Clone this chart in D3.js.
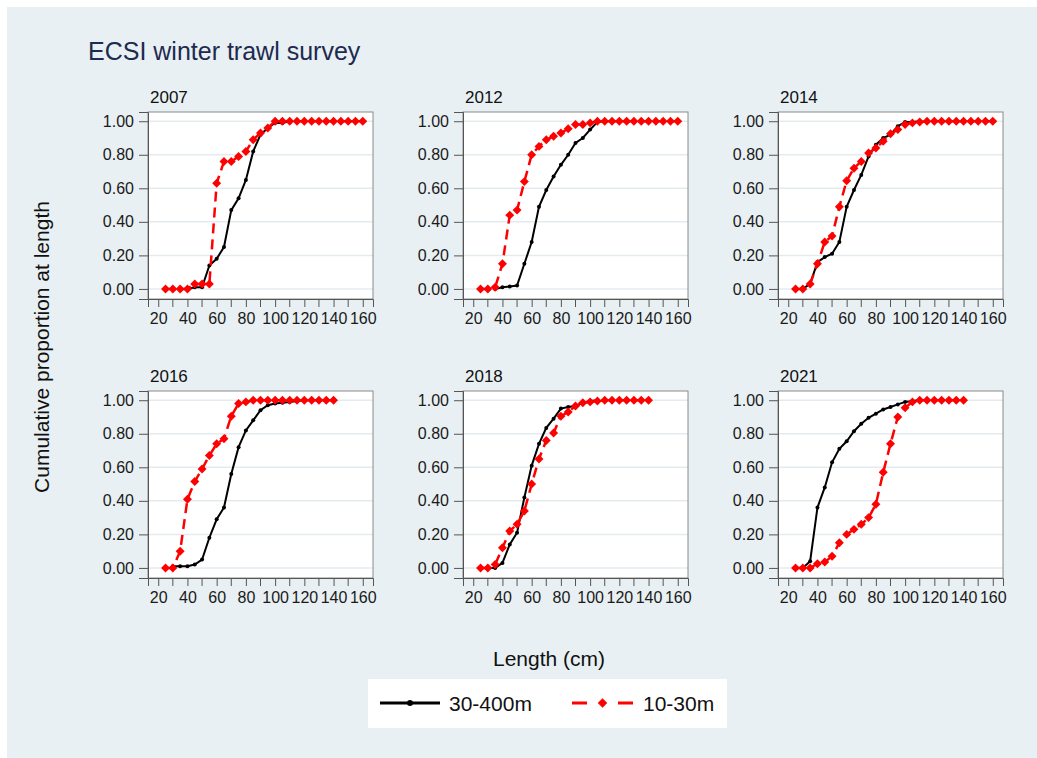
<!DOCTYPE html>
<html>
<head>
<meta charset="utf-8">
<script src="https://cdn.jsdelivr.net/npm/d3@7"></script>
<style>
  body { margin: 0; background: #fff; }
  svg { display: block; font-family: "Liberation Sans", Arial, sans-serif; }
</style>
</head>
<body>
<svg id="chart" width="1037" height="758"></svg>
<script>
// panel years, in reading order
var years = ["2007", "2012", "2014", "2016", "2018", "2021"];

// x = length class (cm), y = cumulative proportion
var deepLen = {
  "2007": [40, 45, 50, 55, 60, 65, 70, 75, 80, 85, 90, 95, 100, 105, 110],
  "2012": [35, 40, 45, 50, 55, 60, 65, 70, 75, 80, 85, 90, 95, 100, 105, 110],
  "2014": [30, 35, 40, 45, 50, 55, 60, 65, 70, 75, 80, 85, 90, 95, 100, 105, 110],
  "2016": [30, 35, 40, 45, 50, 55, 60, 65, 70, 75, 80, 85, 90, 95, 100, 105, 110, 115, 120],
  "2018": [30, 35, 40, 45, 50, 55, 60, 65, 70, 75, 80, 85, 90, 95, 100, 105],
  "2021": [30, 35, 40, 45, 50, 55, 60, 65, 70, 75, 80, 85, 90, 95, 100, 105, 110]
};
var deepVal = {
  "2007": [0.00, 0.01, 0.01, 0.14, 0.18, 0.25, 0.47, 0.54, 0.65, 0.82, 0.92, 0.96, 0.99, 0.99, 1.00],
  "2012": [0.00, 0.01, 0.015, 0.02, 0.15, 0.28, 0.49, 0.59, 0.67, 0.74, 0.80, 0.87, 0.90, 0.95, 0.995, 1.00],
  "2014": [0.00, 0.03, 0.16, 0.19, 0.21, 0.28, 0.49, 0.59, 0.68, 0.79, 0.86, 0.90, 0.92, 0.97, 0.995, 0.995, 1.00],
  "2016": [0.01, 0.01, 0.01, 0.02, 0.05, 0.18, 0.29, 0.36, 0.56, 0.72, 0.82, 0.88, 0.94, 0.97, 0.98, 0.985, 0.99, 0.995, 1.00],
  "2018": [0.00, 0.00, 0.03, 0.14, 0.21, 0.42, 0.61, 0.74, 0.835, 0.89, 0.95, 0.96, 0.965, 0.985, 0.995, 1.00],
  "2021": [0.00, 0.04, 0.36, 0.48, 0.63, 0.71, 0.755, 0.815, 0.86, 0.895, 0.92, 0.945, 0.96, 0.975, 0.99, 0.995, 1.00]
};

var shallowLen160 = [25, 30, 35, 40, 45, 50, 55, 60, 65, 70, 75, 80, 85, 90, 95, 100, 105, 110,
  115, 120, 125, 130, 135, 140, 145, 150, 155, 160];
var shallowLen140 = [25, 30, 35, 40, 45, 50, 55, 60, 65, 70, 75, 80, 85, 90, 95, 100, 105, 110,
  115, 120, 125, 130, 135, 140];
var shallowVal = {
  "2007": [0.00, 0.00, 0.00, 0.00, 0.03, 0.03, 0.03, 0.63, 0.76, 0.76, 0.79, 0.82, 0.89, 0.93, 0.96, 1.00, 1.00, 1.00,
    1.00, 1.00, 1.00, 1.00, 1.00, 1.00, 1.00, 1.00, 1.00, 1.00],
  "2012": [0.00, 0.00, 0.01, 0.15, 0.44, 0.47, 0.64, 0.80, 0.85, 0.89, 0.91, 0.93, 0.955, 0.98, 0.98, 0.99, 1.00, 1.00,
    1.00, 1.00, 1.00, 1.00, 1.00, 1.00, 1.00, 1.00, 1.00, 1.00],
  "2014": [0.00, 0.00, 0.03, 0.15, 0.28, 0.315, 0.49, 0.645, 0.72, 0.76, 0.81, 0.84, 0.88, 0.925, 0.95, 0.98, 0.99, 0.995,
    1.00, 1.00, 1.00, 1.00, 1.00, 1.00, 1.00, 1.00, 1.00, 1.00],
  "2016": [0.00, 0.00, 0.10, 0.41, 0.515, 0.59, 0.67, 0.74, 0.77, 0.905, 0.98, 0.99, 1.00, 1.00, 1.00, 1.00, 1.00, 1.00,
    1.00, 1.00, 1.00, 1.00, 1.00, 1.00],
  "2018": [0.00, 0.00, 0.02, 0.12, 0.22, 0.26, 0.34, 0.50, 0.65, 0.76, 0.805, 0.905, 0.93, 0.965, 0.985, 0.99, 0.995, 1.00,
    1.00, 1.00, 1.00, 1.00, 1.00, 1.00],
  "2021": [0.00, 0.00, 0.00, 0.025, 0.035, 0.07, 0.15, 0.20, 0.23, 0.26, 0.30, 0.38, 0.57, 0.74, 0.90, 0.955, 0.99, 1.00,
    1.00, 1.00, 1.00, 1.00, 1.00, 1.00]
};
var shallowLen = {"2007": shallowLen160, "2012": shallowLen160, "2014": shallowLen160,
  "2016": shallowLen140, "2018": shallowLen140, "2021": shallowLen140};

var xTicks = [20, 40, 60, 80, 100, 120, 140, 160];
var xMinorTicks = [30, 50, 70, 90, 110, 130, 150];
var yTicks = [0, 0.2, 0.4, 0.6, 0.8, 1.0];
var seriesNames = ["30-400m", "10-30m"];

var svg = d3.select("#chart");

// background
svg.append("rect")
  .attr("x", 7).attr("y", 7)
  .attr("width", 1030).attr("height", 751)
  .attr("fill", "#e8f0f3");

svg.append("text")
  .attr("x", 88).attr("y", 60)
  .attr("font-size", 25)
  .attr("fill", "#1e2a4f")
  .text("ECSI winter trawl survey");

var pw = 225, ph = 187;
var colX = [148, 463, 778], rowY = [112, 391];

var x = d3.scaleLinear().domain([13, 167]).range([0, pw]);
var y = d3.scaleLinear().domain([-0.06, 1.055]).range([ph, 0]);

function toPts(lens, vals) {
  return lens.map(function(d, i) { return [d, vals[i]]; });
}

var line = d3.line()
  .x(function(d) { return x(d[0]); })
  .y(function(d) { return y(d[1]); });

var diamond = d3.symbol().type(d3.symbolSquare).size(40);

years.forEach(function(yr, i) {
  var g = svg.append("g")
    .attr("transform", "translate(" + colX[i % 3] + "," + rowY[Math.floor(i / 3)] + ")");

  g.append("rect")
    .attr("width", pw).attr("height", ph)
    .attr("fill", "#fff");

  // grid lines
  g.selectAll(".grid")
    .data(yTicks)
    .enter().append("line")
      .attr("x1", 0).attr("x2", pw)
      .attr("y1", function(d) { return y(d); })
      .attr("y2", function(d) { return y(d); })
      .attr("stroke", "#e3ebef")
      .attr("stroke-width", 1.5);

  g.append("rect")
    .attr("width", pw).attr("height", ph)
    .attr("fill", "none")
    .attr("stroke", "#8a8a8a")
    .attr("stroke-width", 1);

  // y axis
  var yAx = g.append("g")
    .call(d3.axisLeft(y).tickValues(yTicks).tickSize(9).tickPadding(5)
      .tickFormat(d3.format(".2f")));
  yAx.select(".domain").attr("stroke", "#555");
  yAx.selectAll(".tick line").attr("stroke", "#555");
  yAx.selectAll("text").attr("font-size", 16).attr("fill", "#1a1a1a")
    .attr("font-family", "Liberation Sans, Arial, sans-serif");

  // x axis
  var xAx = g.append("g")
    .attr("transform", "translate(0," + ph + ")")
    .call(d3.axisBottom(x).tickValues(xTicks).tickSize(8).tickPadding(6));
  xAx.select(".domain").attr("stroke", "#555");
  xAx.selectAll(".tick line").attr("stroke", "#555");
  xAx.selectAll("text").attr("font-size", 16).attr("fill", "#1a1a1a")
    .attr("font-family", "Liberation Sans, Arial, sans-serif");
  g.selectAll(".minor")
    .data(xMinorTicks)
    .enter().append("line")
      .attr("x1", function(d) { return x(d); })
      .attr("x2", function(d) { return x(d); })
      .attr("y1", ph).attr("y2", ph + 8)
      .attr("stroke", "#555");

  g.append("text")
    .attr("x", 2).attr("y", -9)
    .attr("font-size", 17)
    .attr("fill", "#111")
    .text(yr);

  // 30-400m
  var deep = toPts(deepLen[yr], deepVal[yr]);
  g.append("path")
    .attr("d", line(deep))
    .attr("fill", "none")
    .attr("stroke", "#000")
    .attr("stroke-width", 2);
  g.selectAll(".deep")
    .data(deep)
    .enter().append("circle")
      .attr("cx", function(d) { return x(d[0]); })
      .attr("cy", function(d) { return y(d[1]); })
      .attr("r", 2)
      .attr("fill", "#000");

  // 10-30m
  var shallow = toPts(shallowLen[yr], shallowVal[yr]);
  g.append("path")
    .attr("d", line(shallow))
    .attr("fill", "none")
    .attr("stroke", "#ff0000")
    .attr("stroke-width", 2.5)
    .attr("stroke-dasharray", "10,6");
  g.selectAll(".shallow")
    .data(shallow)
    .enter().append("path")
      .attr("d", diamond)
      .attr("transform", function(d) {
        return "translate(" + x(d[0]) + "," + y(d[1]) + ") rotate(45)";
      })
      .attr("fill", "#ff0000");
});

// axis titles
svg.append("text")
  .attr("transform", "translate(49,347) rotate(-90)")
  .attr("text-anchor", "middle")
  .attr("font-size", 21)
  .attr("fill", "#111")
  .text("Cumulative proportion at length");

svg.append("text")
  .attr("x", 549).attr("y", 666)
  .attr("text-anchor", "middle")
  .attr("font-size", 21)
  .attr("fill", "#111")
  .text("Length (cm)");

// legend
var leg = svg.append("g");
leg.append("rect")
  .attr("x", 368).attr("y", 679)
  .attr("width", 359).attr("height", 49)
  .attr("fill", "#fff");

leg.append("line")
  .attr("x1", 380).attr("x2", 440)
  .attr("y1", 703).attr("y2", 703)
  .attr("stroke", "#000").attr("stroke-width", 3);
leg.append("circle")
  .attr("cx", 410).attr("cy", 703).attr("r", 3)
  .attr("fill", "#000");
leg.append("text")
  .attr("x", 449).attr("y", 711)
  .attr("font-size", 21).attr("fill", "#111")
  .text(seriesNames[0]);

leg.append("line")
  .attr("x1", 572).attr("x2", 633)
  .attr("y1", 703).attr("y2", 703)
  .attr("stroke", "#ff0000").attr("stroke-width", 3)
  .attr("stroke-dasharray", "15,31");
leg.append("path")
  .attr("d", d3.symbol().type(d3.symbolSquare).size(45))
  .attr("transform", "translate(602.5,703) rotate(45)")
  .attr("fill", "#ff0000");
leg.append("text")
  .attr("x", 643).attr("y", 711)
  .attr("font-size", 21).attr("fill", "#111")
  .text(seriesNames[1]);
</script>
</body>
</html>
